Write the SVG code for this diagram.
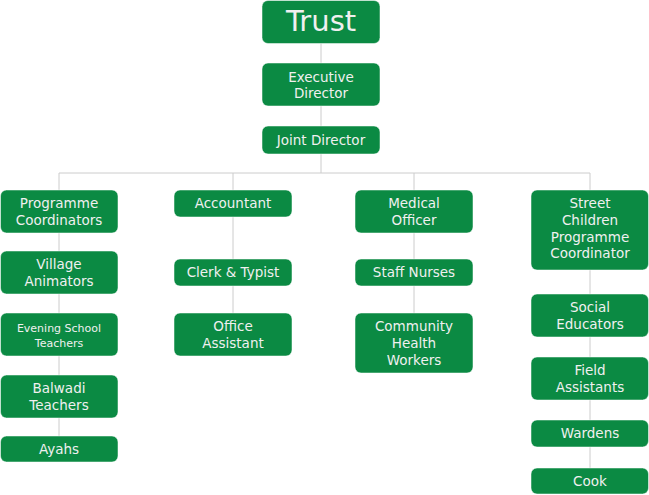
<svg xmlns="http://www.w3.org/2000/svg" width="649" height="495" viewBox="0 0 649 495">
<style>
.n rect{fill:#0b8a43;stroke:#ffffff;stroke-width:0.5}
.n text{fill:#f0f0f0;font-family:"DejaVu Sans",Verdana,sans-serif;font-size:13.5px;text-anchor:middle}
.c path{fill:none;stroke:#cccccc;stroke-width:1}
</style>
<rect width="649" height="495" fill="#ffffff"/>
<g class="c">
<path d="M321 43V63M321 106V126M321 154V173M59 190V173H590V190M233 173V190M414 173V190"/>
<path d="M59 233V251M59 294V313M59 356V375M59 418V436"/>
<path d="M233 217V259M233 286V313"/>
<path d="M414 233V259M414 286V313"/>
<path d="M590 270V294M590 337V357M590 400V420M590 447V468"/>
</g>
<g id="trust" class="n"><rect x="262" y="0.5" width="118" height="43" rx="6"/><text x="321" y="31" style="font-size:29px">Trust</text></g>
<g id="exec" class="n"><rect x="262" y="63" width="118" height="43" rx="6"/><text x="321" y="81.5">Executive</text><text x="321" y="98">Director</text></g>
<g id="joint" class="n"><rect x="262" y="126" width="118" height="28" rx="6"/><text x="321" y="144.5">Joint Director</text></g>

<g id="progcoord" class="n"><rect x="0.5" y="190" width="117.5" height="43" rx="6"/><text x="59" y="207.5">Programme</text><text x="59" y="224.5">Coordinators</text></g>
<g id="village" class="n"><rect x="0.5" y="251" width="117.5" height="43" rx="6"/><text x="59" y="269">Village</text><text x="59" y="286">Animators</text></g>
<g id="evening" class="n"><rect x="0.5" y="313" width="117.5" height="43" rx="6"/><text x="59" y="332" style="font-size:11px">Evening School</text><text x="59" y="347" style="font-size:11px">Teachers</text></g>
<g id="balwadi" class="n"><rect x="0.5" y="375" width="117.5" height="43" rx="6"/><text x="59" y="393">Balwadi</text><text x="59" y="410">Teachers</text></g>
<g id="ayahs" class="n"><rect x="0.5" y="436" width="117.5" height="26" rx="6"/><text x="59" y="454">Ayahs</text></g>

<g id="accountant" class="n"><rect x="174" y="190" width="118" height="27" rx="6"/><text x="233" y="208">Accountant</text></g>
<g id="clerk" class="n"><rect x="174" y="259" width="118" height="27" rx="6"/><text x="233" y="277">Clerk &amp; Typist</text></g>
<g id="office" class="n"><rect x="174" y="313" width="118" height="43" rx="6"/><text x="233" y="331">Office</text><text x="233" y="348">Assistant</text></g>

<g id="medical" class="n"><rect x="355" y="190" width="118" height="43" rx="6"/><text x="414" y="207.5">Medical</text><text x="414" y="224.5">Officer</text></g>
<g id="nurses" class="n"><rect x="355" y="259" width="118" height="27" rx="6"/><text x="414" y="277">Staff Nurses</text></g>
<g id="chw" class="n"><rect x="355" y="313" width="118" height="60" rx="6"/><text x="414" y="331">Community</text><text x="414" y="348">Health</text><text x="414" y="365">Workers</text></g>

<g id="street" class="n"><rect x="531" y="190" width="117.5" height="80" rx="6"/><text x="590" y="207.5">Street</text><text x="590" y="224.5">Children</text><text x="590" y="241.5">Programme</text><text x="590" y="258">Coordinator</text></g>
<g id="social" class="n"><rect x="531" y="294" width="117.5" height="43" rx="6"/><text x="590" y="312">Social</text><text x="590" y="329">Educators</text></g>
<g id="field" class="n"><rect x="531" y="357" width="117.5" height="43" rx="6"/><text x="590" y="375">Field</text><text x="590" y="392">Assistants</text></g>
<g id="wardens" class="n"><rect x="531" y="420" width="117.5" height="27" rx="6"/><text x="590" y="438">Wardens</text></g>
<g id="cook" class="n"><rect x="531" y="468" width="117.5" height="26" rx="6"/><text x="590" y="486">Cook</text></g>
</svg>
